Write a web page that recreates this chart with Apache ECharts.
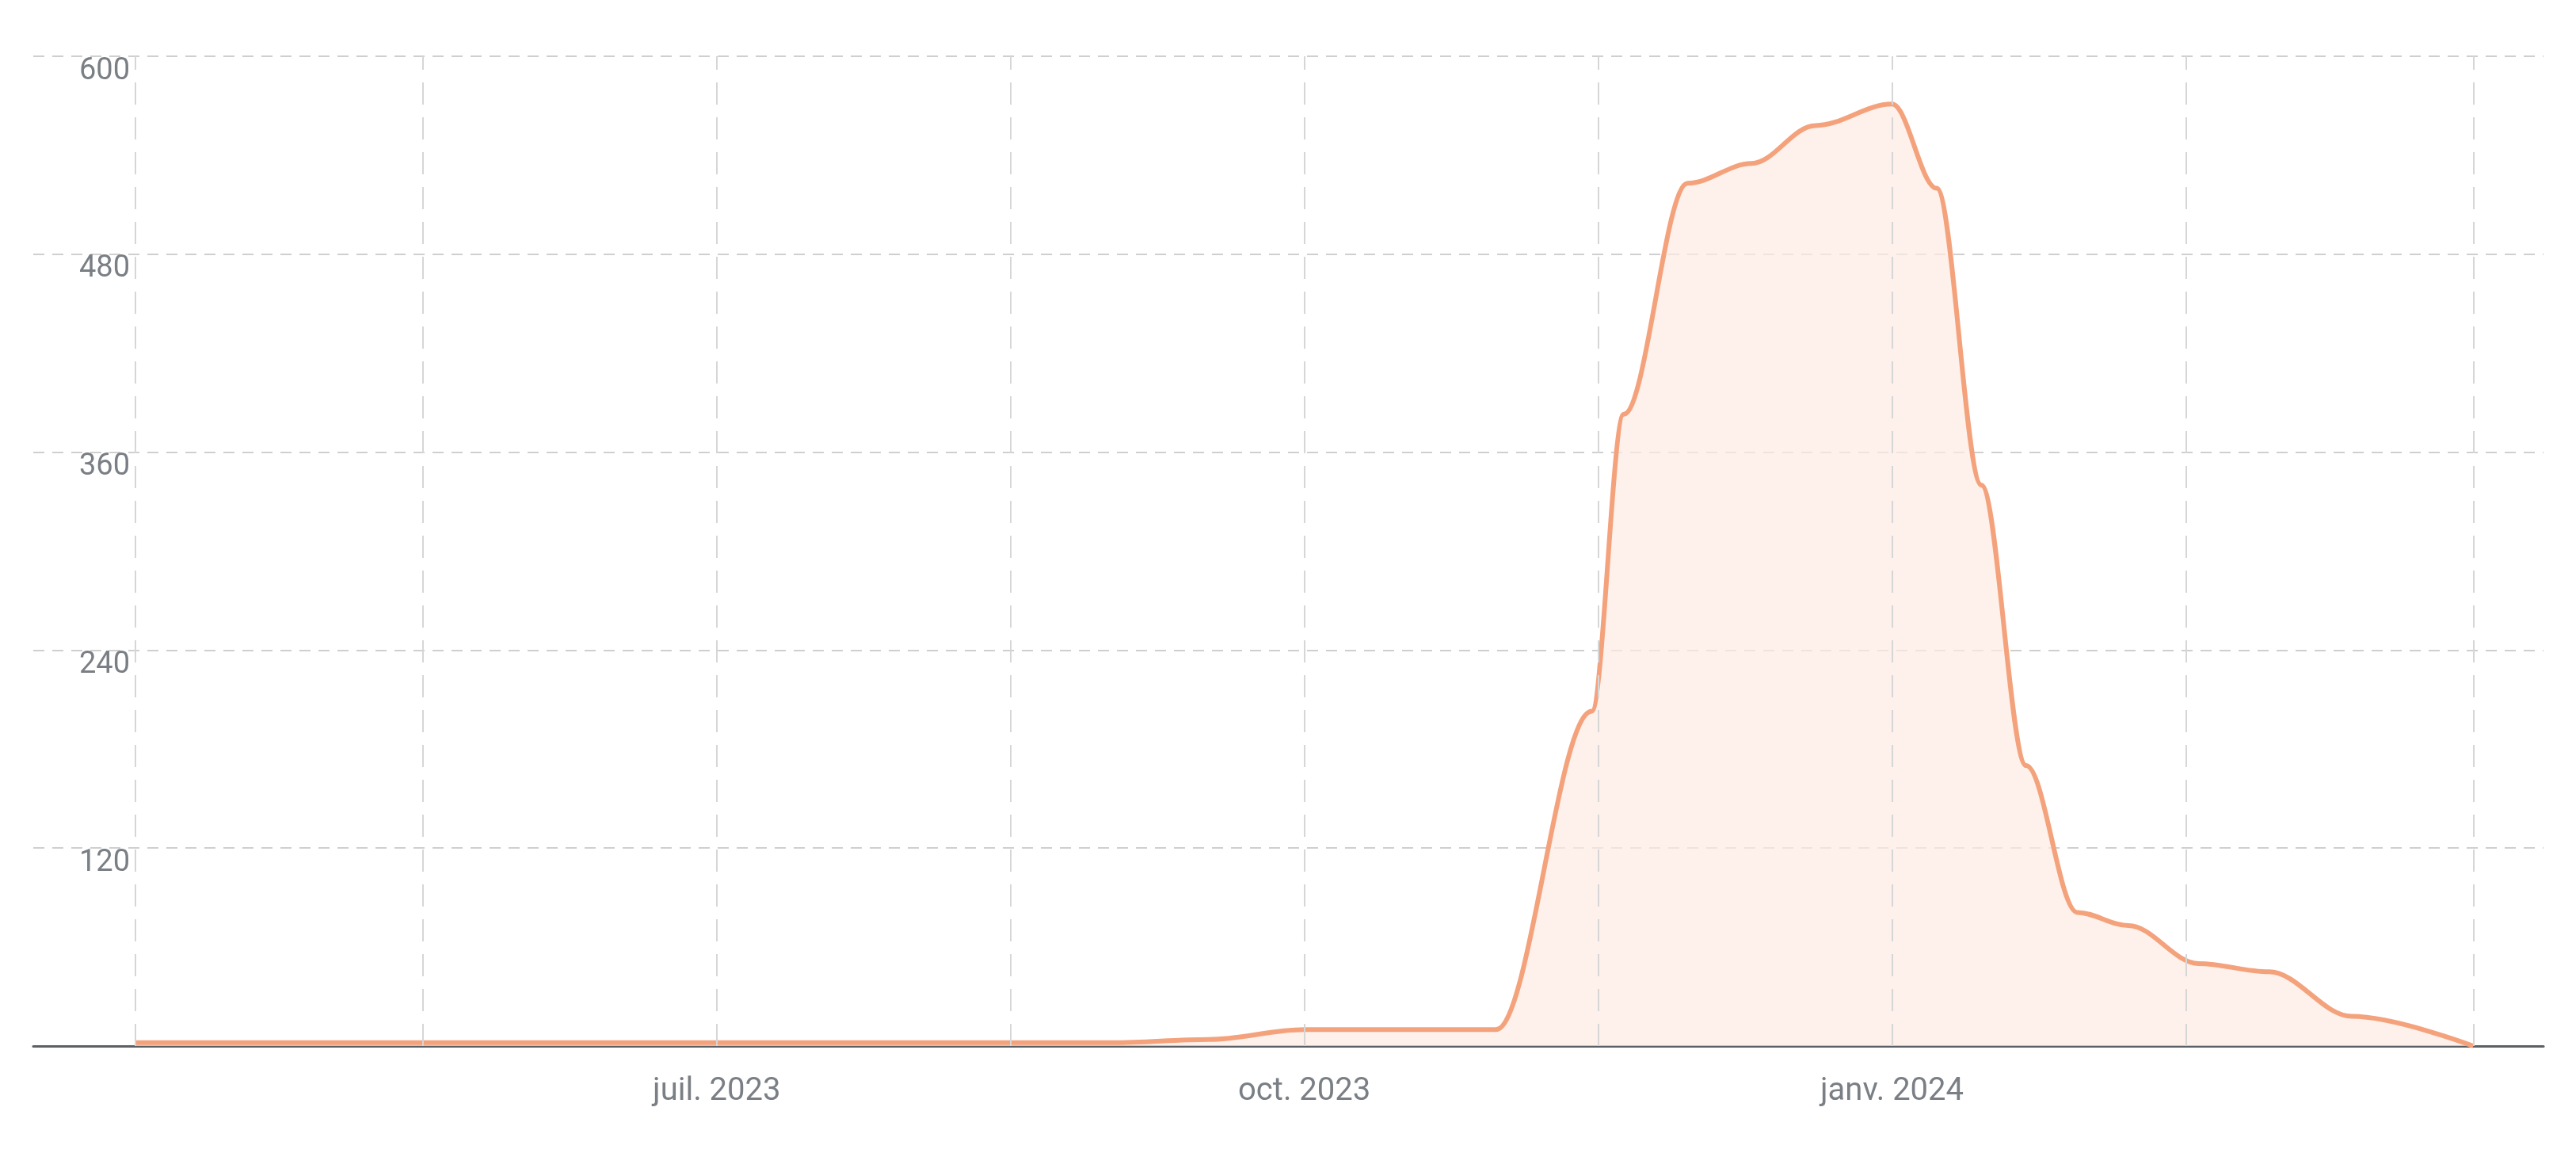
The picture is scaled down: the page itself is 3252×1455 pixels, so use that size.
<!DOCTYPE html>
<html><head><meta charset="utf-8">
<script src="https://cdn.jsdelivr.net/npm/echarts@6/dist/echarts.min.js"></script>
<style>html,body{margin:0;padding:0;background:#fff}#c{width:3252px;height:1455px}</style>
</head><body><div id="c"></div>
<script>
const dates = ['2023-04-01','2023-05-01','2023-06-01','2023-07-01','2023-08-01','2023-09-01','2023-09-16','2023-10-01','2023-10-31','2023-11-15','2023-11-20','2023-11-30','2023-12-10','2023-12-20','2024-01-01','2024-01-08','2024-01-15','2024-01-22','2024-01-30','2024-02-07','2024-02-18','2024-02-29','2024-03-13','2024-04-01'];
const values = [2,2,2,2,2,2,4,10,10,203,383,523,535,558,571,520,340,170,81,73,50,45,18,0];
const gridDates = ['2023-04-01','2023-05-16','2023-07-01','2023-08-16','2023-10-01','2023-11-16','2024-01-01','2024-02-16','2024-04-01'];
const labelDates = ['2023-04-01','2023-07-01','2023-10-01','2024-01-01','2024-04-01'];
const monthNames = ['janv.','févr.','mars','avr.','mai','juin','juil.','août','sept.','oct.','nov.','déc.'];
const yTicks = [0,120,240,360,480,600];

const ts = d => new Date(d + 'T00:00:00').getTime();
const font = '"Liberation Sans Narrow","Roboto","Noto Sans",sans-serif';
const chart = echarts.init(document.getElementById('c'));
chart.setOption({
  animation:false,
  grid:{left:42,right:41,top:71,bottom:135},
  xAxis:{type:'value',min:ts('2023-03-16'),max:ts('2024-04-12'),scale:true,
    axisLine:{lineStyle:{color:'#5a6066',width:3}},
    axisTick:{show:false},splitLine:{show:false},
    axisLabel:{customValues:labelDates.map(ts),showMinLabel:false,showMaxLabel:false,fontFamily:font,fontSize:40,color:'#7a7f85',margin:38,
      formatter:v=>{const d=new Date(v);return monthNames[d.getMonth()]+' '+d.getFullYear();}}},
  yAxis:{type:'value',min:0,max:600,interval:120,
    axisLine:{show:false},axisTick:{show:false},
    splitLine:{lineStyle:{color:'#cfcfcf',type:[14,10],width:2}},
    axisLabel:{inside:true,verticalAlign:'top',margin:58,fontFamily:font,fontSize:38,color:'#7a7f85',
      formatter:v=>v===0?'':String(v)}},
  series:[{type:'line',smooth:0.35,smoothMonotone:'x',showSymbol:false,
    data:dates.map((d,i)=>[ts(d),values[i]]),
    lineStyle:{color:'#f4a27c',width:6},
    itemStyle:{color:'#f4a27c'},
    areaStyle:{color:'#fde9e1'},
    z:3,
    markLine:{silent:true,symbol:'none',label:{show:false},
      lineStyle:{color:'#d6d6d6',type:[28,16],width:2},
      data:gridDates.map(d=>({xAxis:ts(d)}))}
  }]
});
</script></body></html>
